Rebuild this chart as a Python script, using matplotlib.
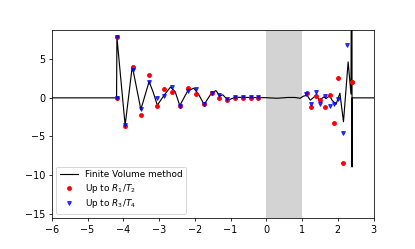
import matplotlib
matplotlib.use("Agg")
import matplotlib.pyplot as plt

# Finite volume solution
fv_x = [-6.0, -4.19, -4.18, -3.95, -3.75, -3.51, -3.28, -3.17, -3.05, -2.85, -2.68,
        -2.55, -2.42, -2.2, -2.03, -1.9, -1.74, -1.55, -1.41, -1.3, -1.22, -1.07,
        -0.87, -0.5, 0.0, 0.3, 0.6, 0.8, 0.95, 1.03, 1.14, 1.23, 1.31, 1.39, 1.49,
        1.61, 1.67, 1.77, 1.84, 1.95, 2.06, 2.16, 2.29, 2.37, 2.395, 2.40, 2.402, 3.0]
fv_y = [0.0, 0.0, 7.85, -3.55, 4.1, -1.5, 2.1, 0.8, -0.95, 0.4, 1.4,
        0.8, -1.0, 0.9, 1.25, 0.5, -0.85, 0.5, 0.95, 0.25, 0.4, -0.3,
        0.08, 0.05, 0.02, -0.05, 0.05, 0.05, -0.05, 0.2, 0.35, -0.3, 0.0, 0.35, -0.3,
        0.12, -0.1, 0.25, -0.3, -0.85, 0.6, -3.1, 4.65, 0.5, 40.0, -8.95, 0.0, 0.0]

# Up to R1/T2
r12_x = [-4.18, -4.18, -3.95, -3.73, -3.51, -3.29, -3.07, -2.85, -2.63, -2.41, -2.19,
         -1.97, -1.75, -1.53, -1.31, -1.09, -0.87, -0.66, -0.44, -0.22,
         1.13, 1.26, 1.39, 1.51, 1.64, 1.77, 1.89, 2.01, 2.14, 2.385, 2.40]
r12_y = [0.0, 7.85, -3.6, 3.95, -2.2, 3.0, -1.0, 1.1, 0.8, -1.05, 1.3,
         0.45, -0.85, 0.65, 0.0, -0.25, 0.0, 0.0, 0.0, 0.0,
         0.63, -1.18, 0.2, -0.3, -1.24, 0.43, -3.3, 2.6, -8.4, 2.0, 2.05]

# Up to R3/T4
r34_x = [-4.18, -4.18, -3.95, -3.73, -3.51, -3.29, -3.07, -2.85, -2.63, -2.41, -2.19,
         -1.97, -1.75, -1.53, -1.31, -1.09, -0.87, -0.66, -0.44, -0.22,
         1.10, 1.26, 1.39, 1.51, 1.64, 1.77, 1.89, 2.01, 2.14, 2.26]
r34_y = [0.0, 7.85, -3.5, 3.6, -1.5, 2.1, 0.0, 0.2, 1.35, -1.0, 0.85,
         1.1, -0.85, 0.65, 0.34, -0.2, 0.15, 0.15, 0.1, 0.15,
         0.5, -0.8, 0.77, -0.85, 0.2, -1.0, -0.83, -0.1, -4.5, 6.8]

fig = plt.figure(figsize=(6.0, 3.6), dpi=69.1667)
ax = fig.add_axes([0.125, 0.123, 0.775, 0.757])
ax.axvspan(0, 1, color='lightgray', lw=0)
ax.plot(fv_x, fv_y, 'k-', lw=1.2, label='Finite Volume method')
ax.plot(r12_x, r12_y, 'ro', ms=4, label='Up to $R_1/T_2$')
ax.plot(r34_x, r34_y, 'bv', ms=4, alpha=0.8, label='Up to $R_3/T_4$')
ax.set_xlim(-6, 3)
ax.set_ylim(-15.6, 8.8)
ax.legend(loc='lower left', fontsize=9.2, labelspacing=0.3)
fig.savefig('out.png', dpi=69.1667)
